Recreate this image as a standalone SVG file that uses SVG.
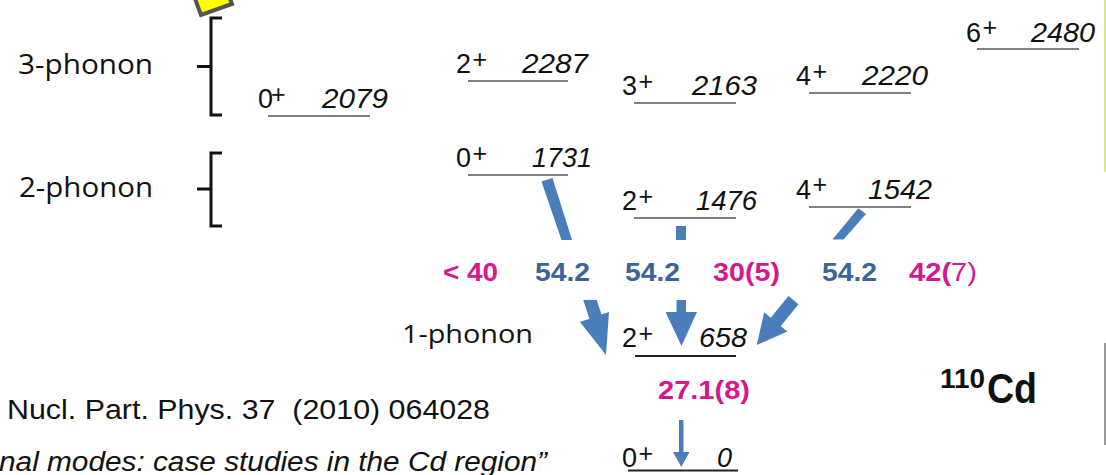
<svg xmlns="http://www.w3.org/2000/svg" width="1106" height="475" viewBox="0 0 1106 475">
<style>
.lvl{stroke:#555;stroke-width:1.6}
.lvd{stroke:#222;stroke-width:2}
.sp{font-family:"Liberation Sans",Arial,sans-serif;font-size:27px;fill:#111}
.pl{font-family:"Liberation Sans",Arial,sans-serif;font-size:25px;fill:#111}
.en{font-family:"Liberation Sans",Arial,sans-serif;font-size:27px;font-style:italic;fill:#111}
.ph{font-family:"Open Sans","Liberation Sans",sans-serif;font-size:28px;fill:#111}
.br{fill:none;stroke:#111;stroke-width:3}
.bl{font-family:"Liberation Sans",Arial,sans-serif;font-size:26px;font-weight:bold;fill:#3B6497}
.mg{font-family:"Liberation Sans",Arial,sans-serif;font-size:26px;font-weight:bold;fill:#D7178D}
.ar{fill:#4A7EBB}
.cit{font-family:"Comic Sans MS","Liberation Sans",sans-serif;font-size:27px;fill:#111}
</style>
<rect width="1106" height="475" fill="#fff"/>
<polygon points="190,-15 201,15 232,4 221,-26" fill="#FFFF00" stroke="#555" stroke-width="4"/>
<line x1="1105" y1="0" x2="1105" y2="172" stroke="#CDE06A" stroke-width="1.5"/>
<line x1="1105" y1="343" x2="1105" y2="445" stroke="#777" stroke-width="1.5"/>

<g id="label-3phonon">
<text class="ph" x="18" y="74" textLength="135" lengthAdjust="spacingAndGlyphs">3-phonon</text>
<path class="br" d="M222,18 H211 V115 H222 M197,66.5 H211"/>
</g>
<g id="label-2phonon">
<text class="ph" x="19" y="197" textLength="134" lengthAdjust="spacingAndGlyphs">2-phonon</text>
<path class="br" d="M222,153 H211 V226 H222 M197,189 H211"/>
</g>
<g id="label-1phonon">
<text class="ph" x="402" y="343" style="font-size:26px" textLength="131" lengthAdjust="spacingAndGlyphs">1-phonon</text>
</g>

<g id="lvl-2079">
<line class="lvl" x1="268" y1="116" x2="370" y2="116"/>
<text class="sp" x="258" y="108">0</text><text class="pl" x="271" y="102.5">+</text>
<text class="en" x="322" y="108" textLength="66" lengthAdjust="spacingAndGlyphs">2079</text>
</g>
<g id="lvl-2287">
<line class="lvl" x1="468" y1="81" x2="568" y2="81"/>
<text class="sp" x="456" y="73">2</text><text class="pl" x="472.5" y="67.5">+</text>
<text class="en" x="522" y="73" textLength="66" lengthAdjust="spacingAndGlyphs">2287</text>
</g>
<g id="lvl-2163">
<line class="lvl" x1="634" y1="103" x2="736" y2="103"/>
<text class="sp" x="622" y="95">3</text><text class="pl" x="638.5" y="89.5">+</text>
<text class="en" x="692" y="95" textLength="65" lengthAdjust="spacingAndGlyphs">2163</text>
</g>
<g id="lvl-1731">
<line class="lvl" x1="468" y1="175" x2="568" y2="175"/>
<text class="sp" x="456" y="167">0</text><text class="pl" x="472.5" y="161.5">+</text>
<text class="en" x="532" y="167" textLength="60" lengthAdjust="spacingAndGlyphs">1731</text>
</g>
<g id="lvl-1476">
<line class="lvl" x1="634" y1="218" x2="736" y2="218"/>
<text class="sp" x="622" y="210">2</text><text class="pl" x="638.5" y="204.5">+</text>
<text class="en" x="696" y="210" textLength="61" lengthAdjust="spacingAndGlyphs">1476</text>
</g>
<g id="lvl-2220">
<line class="lvl" x1="809" y1="93" x2="911" y2="93"/>
<text class="sp" x="796" y="85">4</text><text class="pl" x="812.5" y="79.5">+</text>
<text class="en" x="862" y="85" textLength="66" lengthAdjust="spacingAndGlyphs">2220</text>
</g>
<g id="lvl-1542">
<line class="lvl" x1="809" y1="207" x2="911" y2="207"/>
<text class="sp" x="796" y="198.5">4</text><text class="pl" x="812.5" y="193">+</text>
<text class="en" x="868" y="198.5" textLength="64" lengthAdjust="spacingAndGlyphs">1542</text>
</g>
<g id="lvl-2480">
<line class="lvl" x1="977" y1="49" x2="1079" y2="49"/>
<text class="sp" x="966" y="41.7">6</text><text class="pl" x="982.5" y="36.2">+</text>
<text class="en" x="1031" y="41.7" textLength="64" lengthAdjust="spacingAndGlyphs">2480</text>
</g>
<g id="lvl-658">
<line class="lvd" x1="635" y1="356" x2="736" y2="356"/>
<text class="sp" x="622" y="347">2</text><text class="pl" x="638.5" y="341.5">+</text>
<text class="en" x="699" y="347" textLength="48" lengthAdjust="spacingAndGlyphs">658</text>
</g>
<g id="lvl-0">
<line class="lvd" x1="628" y1="470.5" x2="738" y2="470.5"/>
<text class="sp" x="622" y="467">0</text><text class="pl" x="638.5" y="461.5">+</text>
<text class="en" x="717" y="467">0</text>
</g>

<g id="connectors">
<polygon class="ar" points="541.5,181.5 552.5,178 572,240 561.5,240"/>
<polygon class="ar" points="583.3,300 596.7,300 601.5,314.5 609,312 606,355 580,322 589.4,318.7"/>
<rect class="ar" x="676" y="226" width="10" height="14"/>
<polygon class="ar" points="676.5,300 686,300 686,312 697,312 681.5,346 665.5,312 676.5,312"/>
<polygon class="ar" points="858.3,208.3 866,214 843.5,239.5 832.5,239.5"/>
<polygon class="ar" points="798.5,304.3 780.8,326 787.3,331.4 756.7,345 764.2,312.3 770.7,317.7 788.5,296.1"/>
<polygon class="ar" points="679,420 683.5,420 683.5,452 689.5,452 681.3,467 673,452 679,452"/>
</g>

<g id="values">
<text class="mg" x="443" y="280.7" textLength="55" lengthAdjust="spacingAndGlyphs">&lt; 40</text>
<text class="bl" x="535" y="280.7" textLength="55" lengthAdjust="spacingAndGlyphs">54.2</text>
<text class="bl" x="625" y="280.7" textLength="55" lengthAdjust="spacingAndGlyphs">54.2</text>
<text class="mg" x="713" y="280.7" textLength="67" lengthAdjust="spacingAndGlyphs">30(5)</text>
<text class="bl" x="822" y="280.7" textLength="55" lengthAdjust="spacingAndGlyphs">54.2</text>
<text class="mg" x="909" y="280.7" textLength="68" lengthAdjust="spacingAndGlyphs">42(<tspan font-weight="normal">7)</tspan></text>
<text class="mg" x="658" y="399" textLength="92" lengthAdjust="spacingAndGlyphs">27.1(8)</text>
</g>

<g id="nucleus">
<text x="940" y="388" font-family="Liberation Sans,Arial,sans-serif" font-weight="bold" font-size="27" fill="#111" textLength="45" lengthAdjust="spacingAndGlyphs">110</text>
<text x="987" y="403" font-family="Liberation Sans,Arial,sans-serif" font-weight="bold" font-size="43" fill="#111" textLength="50" lengthAdjust="spacingAndGlyphs">Cd</text>
</g>

<g id="citation">
<text class="cit" x="7" y="419" textLength="483" lengthAdjust="spacingAndGlyphs" xml:space="preserve">Nucl. Part. Phys. 37  (2010) 064028</text>
<text class="cit" x="-1" y="471" font-style="italic" textLength="548" lengthAdjust="spacingAndGlyphs">nal modes: case studies in the Cd region”</text>
</g>
</svg>
